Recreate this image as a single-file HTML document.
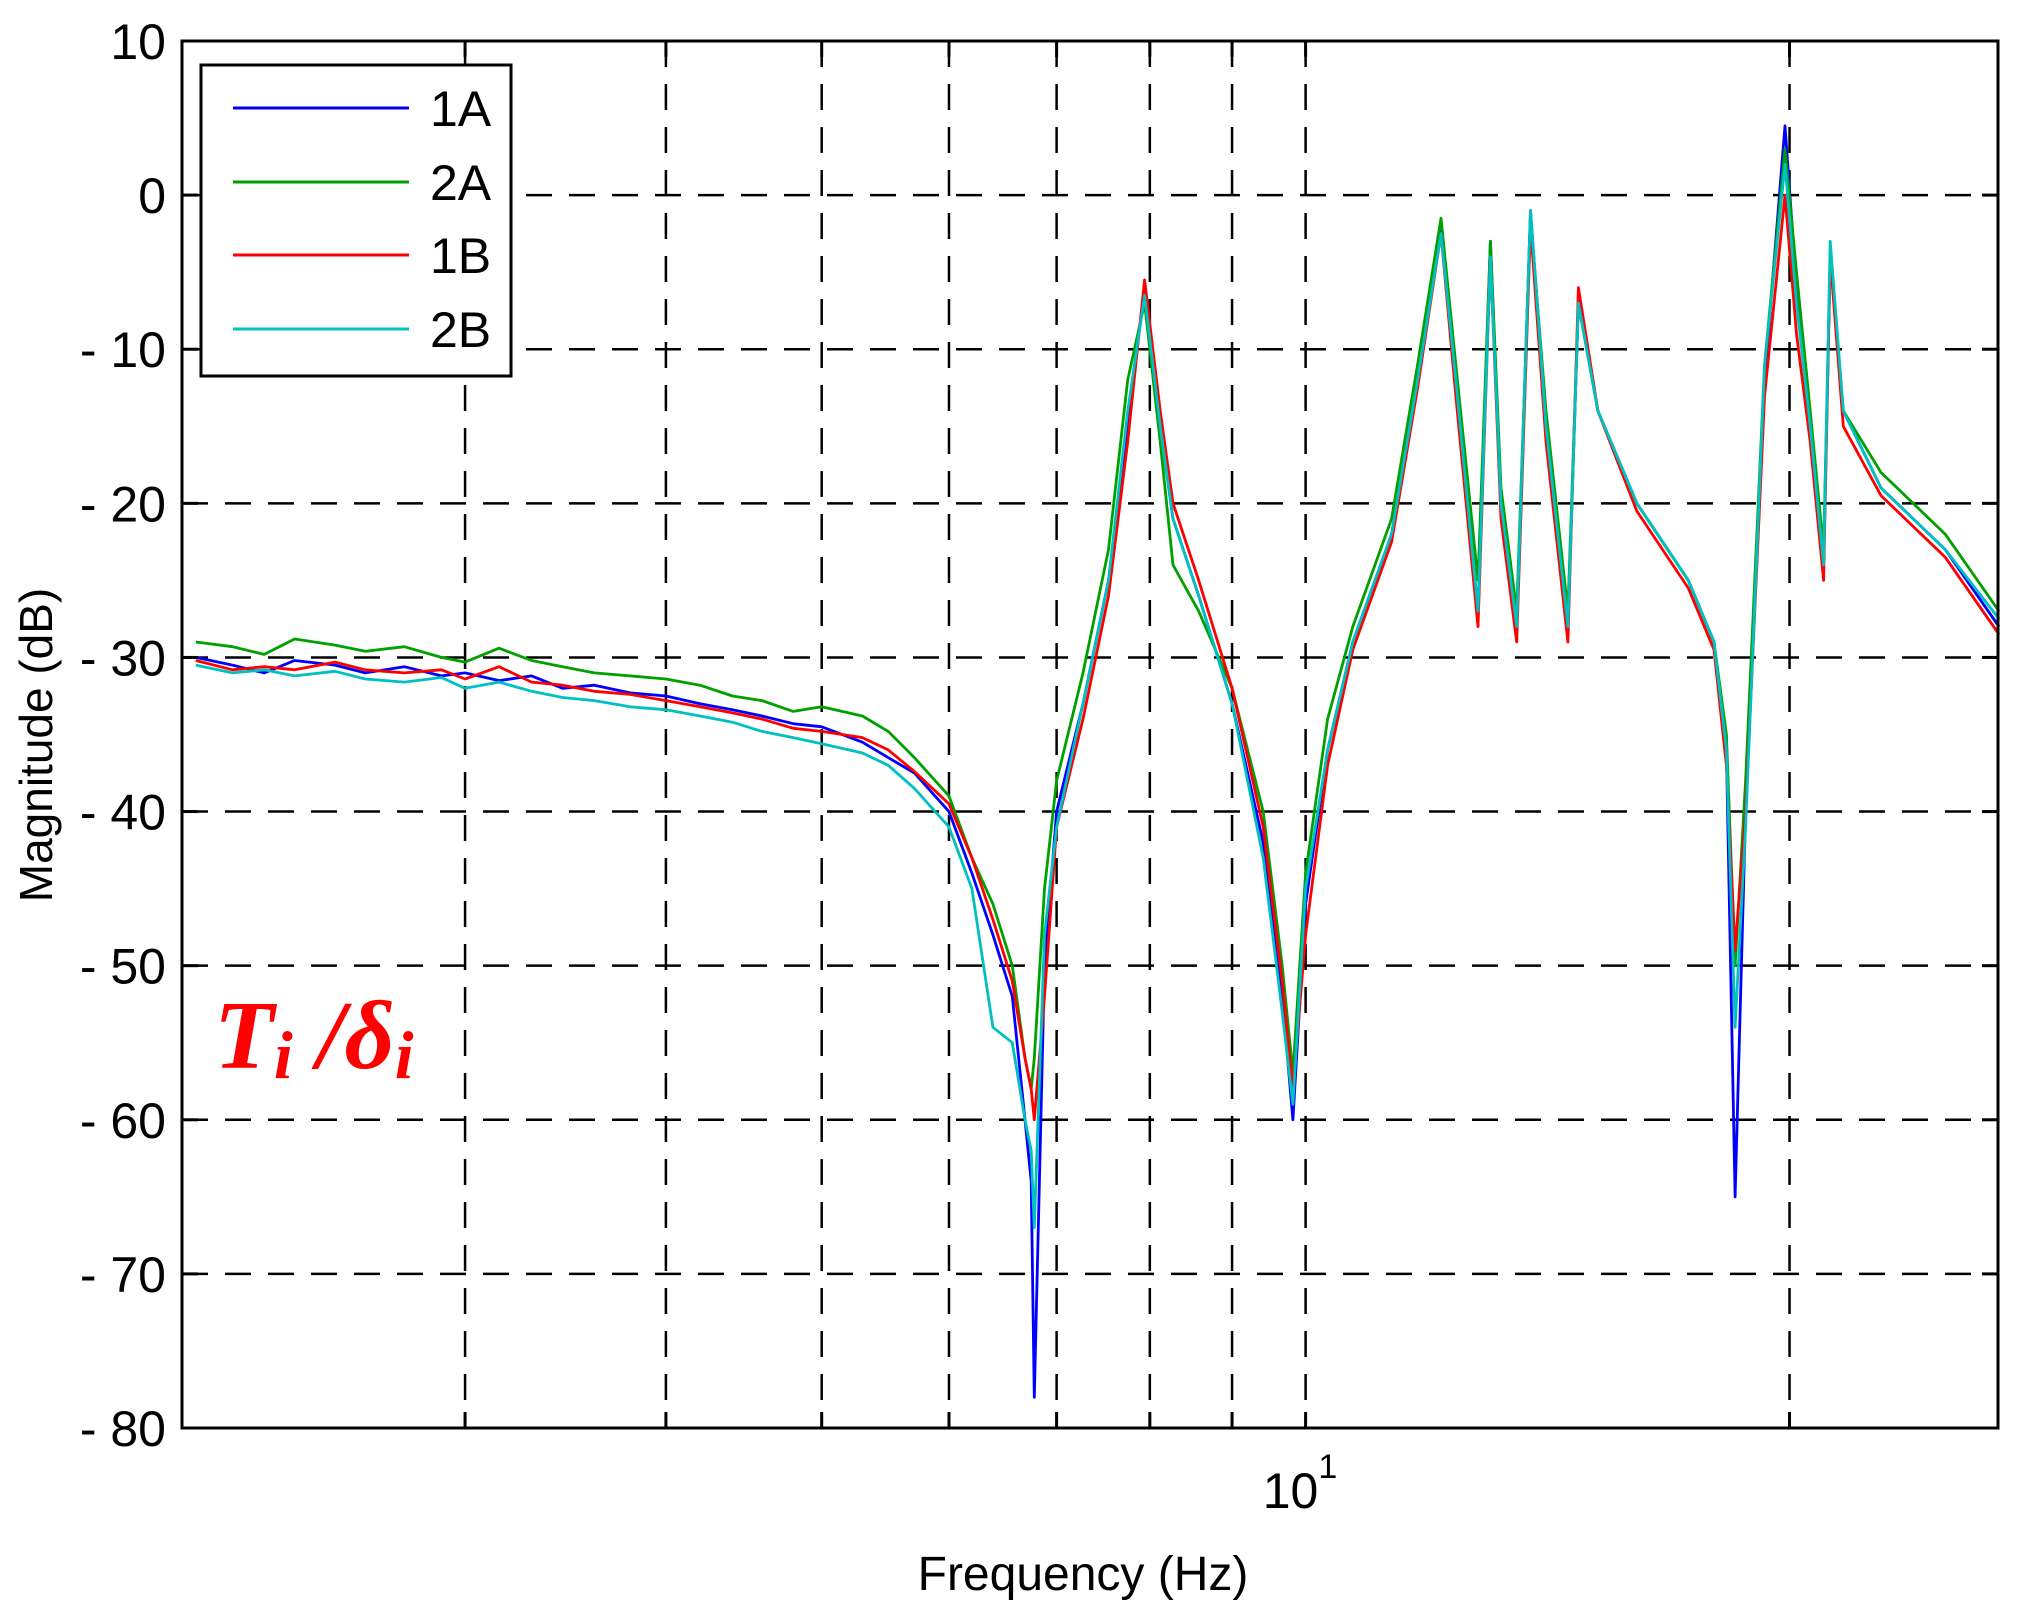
<!DOCTYPE html>
<html><head><meta charset="utf-8"><style>
body{margin:0;background:#fff;}
svg{display:block;}
</style></head><body>
<svg id="chart" width="2033" height="1603" xmlns="http://www.w3.org/2000/svg" font-family="Liberation Sans, sans-serif">
<rect width="2033" height="1603" fill="#fff"/>
<g id="grid"></g>
<g id="series"></g>
<rect x="182" y="41" width="1816" height="1387" fill="none" stroke="#000" stroke-width="3"/>
<g id="ticks"></g>
<text x="1300" y="1508" font-size="50" text-anchor="middle">10<tspan dy="-30" font-size="34">1</tspan></text>
<text x="1083" y="1590" font-size="48" text-anchor="middle">Frequency  (Hz)</text>
<text transform="translate(52,745) rotate(-90)" font-size="46" text-anchor="middle">Magnitude (dB)</text>
<text x="214" y="1068" font-family="Liberation Serif, serif" font-weight="bold" font-style="italic" font-size="98" fill="#f00">T<tspan font-size="68" dy="10">i</tspan><tspan dy="-10"> /δ</tspan><tspan font-size="68" dy="10">i</tspan></text>
<g>
<rect x="201" y="65" width="310" height="311" fill="#fff" stroke="#000" stroke-width="3"/>
<line x1="233" y1="108" x2="409" y2="108" stroke="#0000ff" stroke-width="3"/>
<line x1="233" y1="182" x2="409" y2="182" stroke="#00a000" stroke-width="3"/>
<line x1="233" y1="255" x2="409" y2="255" stroke="#ff0000" stroke-width="3"/>
<line x1="233" y1="329" x2="409" y2="329" stroke="#00c0c0" stroke-width="3"/>
<text x="430" y="126" font-size="50">1A</text>
<text x="430" y="200" font-size="50">2A</text>
<text x="430" y="273" font-size="50">1B</text>
<text x="430" y="347" font-size="50">2B</text>
</g>
</svg>
<script>
const freqs=[2.04,2.15,2.25,2.35,2.49,2.6,2.75,2.9,3.0,3.15,3.3,3.45,3.61,3.8,4.0,4.2,4.4,4.59,4.8,5.0,5.3,5.5,5.71,6.0,6.2,6.39,6.57,6.69,6.75,6.78,6.88,7.0,7.27,7.54,7.75,7.94,8.12,8.27,8.58,9.0,9.41,9.67,9.82,10,10.32,10.7,11.31,11.74,12.14,12.4,12.8,13.03,13.23,13.53,13.8,14.11,14.56,14.78,15.2,16.07,17.3,17.95,18.27,18.5,18.78,19.3,19.87,20.2,20.6,21.0,21.2,21.6,22.8,25.0,27.0];
const s1A=[-30,-30.5,-31,-30.2,-30.5,-31,-30.6,-31.2,-31,-31.5,-31.2,-32,-31.8,-32.3,-32.5,-33,-33.4,-33.8,-34.3,-34.5,-35.5,-36.5,-37.5,-40,-44,-48,-52,-60,-64,-78,-50,-40,-33,-25,-15,-6,-15,-21,-26,-33,-42,-52,-60,-46,-36,-29,-22,-12,-2,-12,-27,-3,-20,-28,-1,-15,-28,-7,-14,-20,-25,-29,-36,-65,-40,-12,4.5,-6,-15,-24,-4,-14,-19,-23,-28];
const s2A=[-29,-29.3,-29.8,-28.8,-29.2,-29.6,-29.3,-30,-30.3,-29.4,-30.2,-30.6,-31,-31.2,-31.4,-31.8,-32.5,-32.8,-33.5,-33.2,-33.8,-34.8,-36.5,-39,-43,-46,-50,-56,-58,-56,-45,-38,-31,-23,-12,-7,-16,-24,-27,-32,-40,-50,-57,-44,-34,-28,-21,-11,-1.5,-11,-25,-3,-19,-27,-1.5,-14,-27,-7,-14,-20,-25,-29,-35,-50,-38,-11,3,-5,-14,-23,-4,-14,-18,-22,-27];
const s1B=[-30.2,-30.8,-30.6,-30.8,-30.3,-30.8,-31,-30.8,-31.4,-30.6,-31.6,-31.8,-32.2,-32.4,-32.8,-33.2,-33.6,-34,-34.6,-34.8,-35.2,-36,-37.4,-39.5,-43,-47,-51,-56,-58,-60,-52,-41,-34,-26,-16,-5.5,-14,-20,-25,-32,-41,-51,-58,-48,-37,-29.5,-22.5,-12.5,-2.5,-13,-28,-4,-21,-29,-2,-16,-29,-6,-14,-20.5,-25.5,-29.5,-37,-49,-40,-13,0,-9,-16,-25,-4,-15,-19.5,-23.5,-28.5];
const s2B=[-30.5,-31,-30.8,-31.2,-30.9,-31.4,-31.6,-31.3,-32,-31.6,-32.2,-32.6,-32.8,-33.2,-33.4,-33.8,-34.2,-34.8,-35.2,-35.6,-36.2,-37,-38.5,-41,-45,-54,-55,-60,-62,-67,-48,-41,-33,-25,-14,-6.5,-15,-21,-26,-33,-43,-53,-59,-45,-36,-29,-22,-12,-2.5,-12,-27,-4,-20,-28,-1,-15,-28,-7,-14,-20,-25,-29,-36,-54,-41,-11,2,-7,-15,-24,-3,-14,-19,-23,-27.5];
const yTicks=[10,0,-10,-20,-30,-40,-50,-60,-70,-80];
const yTickLabels=["10","0","- 10","- 20","- 30","- 40","- 50","- 60","- 70","- 80"];
const xGrid=[3,4,5,6,7,8,9,10,20];
const X0=182,X1=1998,Y0=41,Y1=1428,FMIN=2,FMAX=26.96,DMAX=10,DMIN=-80;
const NS='http://www.w3.org/2000/svg';
function xs(f){return X0+(Math.log10(f)-Math.log10(FMIN))/(Math.log10(FMAX)-Math.log10(FMIN))*(X1-X0);}
function ys(d){return Y0+(DMAX-d)/(DMAX-DMIN)*(Y1-Y0);}
function mk(tag,attrs){const e=document.createElementNS(NS,tag);for(const k in attrs)e.setAttribute(k,attrs[k]);return e;}
const grid=document.getElementById('grid'),ticks=document.getElementById('ticks'),ser=document.getElementById('series');
xGrid.forEach(f=>{const x=xs(f);
 const l=mk('line',{x1:x,y1:Y0,x2:x,y2:Y1,stroke:'#000','stroke-width':2.5,'stroke-dasharray':'26 17'});
 
 
 grid.appendChild(l);
 [[Y1,Y1-16],[Y0,Y0+16]].forEach(p=>{const t=mk('line',{x1:x,y1:p[0],x2:x,y2:p[1],stroke:'#000','stroke-width':3});
  
  
  ticks.appendChild(t);});
});
yTicks.forEach((d,i)=>{const y=ys(d);
 if(d<DMAX&&d>DMIN){const l=mk('line',{x1:X0,y1:y,x2:X1,y2:y,stroke:'#000','stroke-width':2.5,'stroke-dasharray':'26 17'});
  
  
  grid.appendChild(l);}
 [[X0,X0+16],[X1,X1-16]].forEach(p=>{const t=mk('line',{x1:p[0],y1:y,x2:p[1],y2:y,stroke:'#000','stroke-width':3});
  
  
  ticks.appendChild(t);});
 const tx=mk('text',{x:X0-16,y:y+18,'font-size':50,'text-anchor':'end'});
 tx.textContent=yTickLabels[i];
 
 
 ticks.appendChild(tx);
});
const seriesList=[['series-1a',s1A,'#0000ff'],['series-2a',s2A,'#00a000'],['series-1b',s1B,'#ff0000'],['series-2b',s2B,'#00c0c0']];
seriesList.forEach(s=>{const n=Math.min(freqs.length,s[1].length);let pts=[];
 for(let i=0;i<n;i++)pts.push(xs(freqs[i]).toFixed(1)+','+ys(s[1][i]).toFixed(1));
 const p=mk('polyline',{points:pts.join(' '),fill:'none',stroke:s[2],'stroke-width':2.8,'stroke-linejoin':'round'});
 
 
 ser.appendChild(p);});
</script>
</body></html>
